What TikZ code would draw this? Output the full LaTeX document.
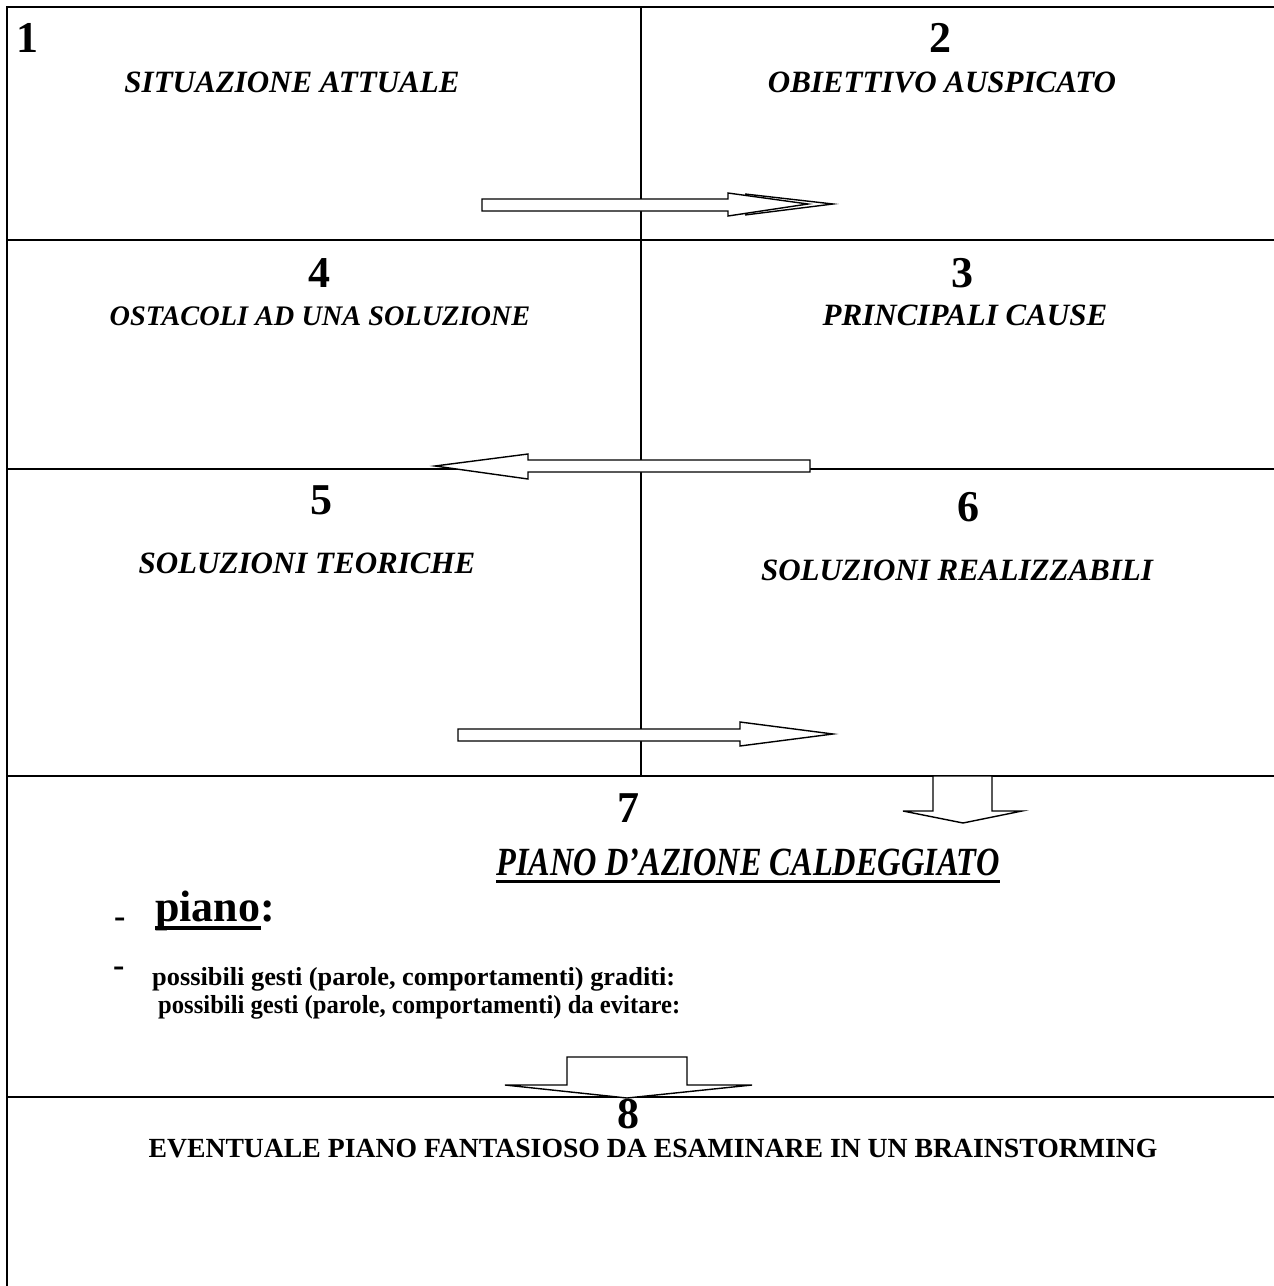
\documentclass[tikz,border=0pt]{standalone}
\usepackage{fontspec}
\usepackage{graphicx}
\setmainfont{Liberation Serif}
\begin{document}
\begin{tikzpicture}[x=1pt,y=-1pt,
  lbl/.style={font=\bfseries\itshape\fontsize{31}{33}\selectfont, anchor=base, inner sep=0pt},
  num/.style={font=\bfseries\fontsize{44}{46}\selectfont, anchor=base, inner sep=0pt},
  body/.style={font=\bfseries\fontsize{26}{28}\selectfont, anchor=base west, inner sep=0pt},
  frame/.style={line width=2.5pt},
  midline/.style={line width=2pt},
  blockarrow/.style={draw, line width=1.4pt, fill=white, line join=miter}]
\useasboundingbox (0,0) rectangle (1274,1286);
\begin{scope}
\clip (0,0) rectangle (1274,1286);
% frame
\coordinate (tl) at (7,7);
\coordinate (tr) at (1280,7);
\coordinate (bl) at (7,1290);
\coordinate (l1) at (7,240);   \coordinate (r1) at (1280,240);
\coordinate (l2) at (7,469);   \coordinate (r2) at (1280,469);
\coordinate (l3) at (7,776);   \coordinate (r3) at (1280,776);
\coordinate (l4) at (7,1097);  \coordinate (r4) at (1280,1097);
\coordinate (mt) at (641,7);   \coordinate (mb) at (641,776);
\draw[frame] (tr) -- (tl) -- (bl);
\draw[frame] (l1) -- (r1);
\draw[frame] (l2) -- (r2);
\draw[frame] (l3) -- (r3);
\draw[frame] (l4) -- (r4);
\draw[midline] (mt) -- (mb);
\end{scope}
% arrow 1 (right, double head)
\draw[blockarrow] (482,199) -- (728,199) -- (728,193) -- (808,204) -- (728,216) -- (728,211) -- (482,211) -- cycle;
\draw[line width=1.4pt] (745,194) -- (833,204) -- (745,215);
% arrow 2 (left)
\draw[blockarrow] (810,460) -- (528,460) -- (528,454) -- (435,466) -- (528,479) -- (528,472) -- (810,472) -- cycle;
% arrow 3 (right)
\draw[blockarrow] (458,729) -- (740,729) -- (740,722) -- (833,734) -- (740,746) -- (740,741) -- (458,741) -- cycle;
% arrow 4 (down)
\draw[blockarrow] (933,776) -- (992,776) -- (992,811) -- (1022,811) -- (963,823) -- (903,811) -- (933,811) -- cycle;
% arrow 5 (down, big)
\draw[blockarrow] (567,1057) -- (687,1057) -- (687,1085) -- (752,1085) -- (627,1098) -- (505,1085) -- (567,1085) -- cycle;
% texts
\node[num, anchor=base west] (n1) at (16,52) {1};
\node[lbl] (t1) at (292,92) {SITUAZIONE ATTUALE};
\node[num] (n2) at (940,52) {2};
\node[lbl] (t2) at (942,92) {OBIETTIVO AUSPICATO};
\node[num] (n4) at (319,287) {4};
\node[lbl, font=\bfseries\itshape\fontsize{28.3}{30}\selectfont] (t4) at (320,325) {OSTACOLI AD UNA SOLUZIONE};
\node[num] (n3) at (962,287) {3};
\node[lbl] (t3) at (965,325) {PRINCIPALI CAUSE};
\node[num] (n5) at (321,514) {5};
\node[lbl] (t5) at (307,573) {SOLUZIONI TEORICHE};
\node[num] (n6) at (968,521) {6};
\node[lbl] (t6) at (957,580) {SOLUZIONI REALIZZABILI};
\node[num] (n7) at (628,822) {7};
\node[font=\bfseries\itshape\fontsize{40}{42}\selectfont, anchor=base, inner sep=0pt] (t7) at (748,875) {\resizebox{503pt}{\height}{PIANO D’AZIONE CALDEGGIATO}};
\draw[line width=3pt] ([yshift=-6pt]t7.base west) -- ([yshift=-6pt]t7.base east);
\node[font=\bfseries\fontsize{34}{36}\selectfont, anchor=base west, inner sep=0pt] (d1) at (114,927) {-};
\node[font=\bfseries\fontsize{44}{46}\selectfont, anchor=base west, inner sep=0pt] (p1) at (155,921) {piano};
\node[font=\bfseries\fontsize{44}{46}\selectfont, anchor=base west, inner sep=0pt] (p2) at (p1.base east) {:};
\draw[line width=3.5pt] ([yshift=-7pt]p1.base west) -- ([yshift=-7pt]p1.base east);
\node[font=\bfseries\fontsize{34}{36}\selectfont, anchor=base west, inner sep=0pt] (d2) at (113,976) {-};
\node[body] (g1) at (152,985) {\resizebox{523pt}{\height}{possibili gesti (parole, comportamenti) graditi:}};
\node[body] (g2) at (158,1013) {\resizebox{522pt}{\height}{possibili gesti (parole, comportamenti) da evitare:}};
\node[num] (n8) at (628,1128) {8};
\node[font=\bfseries\fontsize{27.7}{29}\selectfont, anchor=base, inner sep=0pt] (t8) at (653,1157) {EVENTUALE PIANO FANTASIOSO DA ESAMINARE IN UN BRAINSTORMING};
\end{tikzpicture}
\end{document}
